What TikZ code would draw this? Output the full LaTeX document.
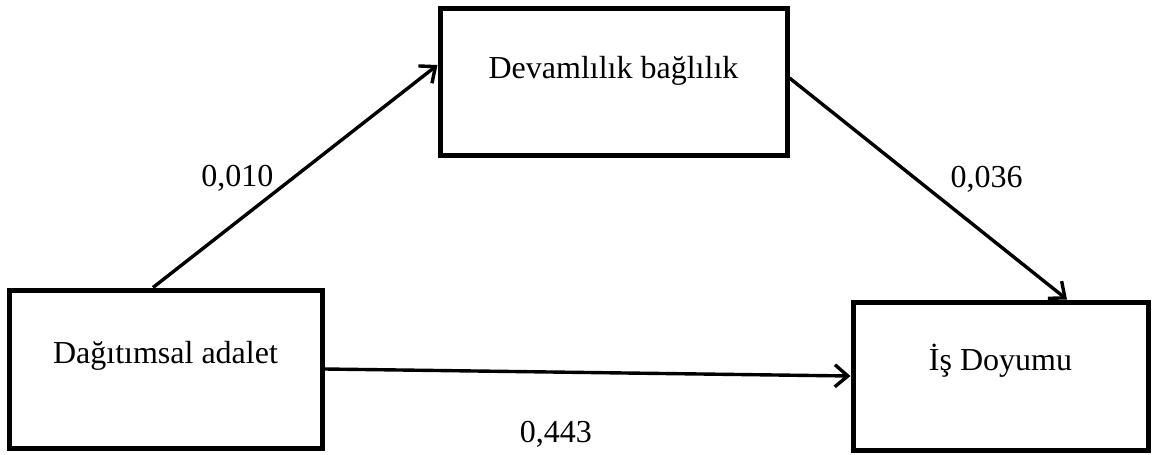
\documentclass[tikz,border=0pt]{standalone}
\usepackage{fontspec}
\setmainfont{Liberation Serif}
\usepackage{tikz}
\usetikzlibrary{arrows.meta,positioning}
\tikzset{
  kutu/.style ={rectangle, draw=black, line width=2.5pt, inner sep=0pt,
                align=center, font=\fontsize{16}{19}\selectfont},
  etiket/.style={inner sep=0pt, font=\fontsize{16}{19}\selectfont},
  ok/.style   ={-{Straight Barb[length=6.5pt,width=11pt,line width=1.7pt]},
                line width=1.7pt, draw=black}
}
\begin{document}
\begin{tikzpicture}[x=0.5pt,y=-0.5pt]
\useasboundingbox (0,0) rectangle (1158,455);
\node[kutu, minimum width=156.5pt, text height=36.5pt, text depth=42.5pt]
      (adalet) at (165.5,369) {Dağıtımsal adalet};
\node[kutu, minimum width=173.5pt, text height=35pt, text depth=38.5pt]
      (baglilik) at (613.5,81.5) {Devamlılık bağlılık};
\node[kutu, minimum width=147.5pt, text height=34pt, text depth=40pt,
      right=263pt of adalet, yshift=-3.5pt] (doyum) {İş Doyumu};

\draw[ok] ([xshift=-6.25pt]adalet.north) -- node[etiket, pos=0.42, anchor=south east,
      xshift=1.25pt, yshift=0.25pt] (e1) {0,010} ([yshift=8.25pt]baglilik.west);
\draw[ok] ([yshift=1.75pt]baglilik.east) -- node[etiket, pos=0.56, anchor=south west,
      xshift=2pt, yshift=4.2pt] (e2) {0,036} ([xshift=33.25pt]doyum.north);
\draw[ok] (adalet.east) -- node[etiket, pos=0.44, below=23.5pt] (e3) {0,443} (doyum.west);
\end{tikzpicture}
\end{document}
